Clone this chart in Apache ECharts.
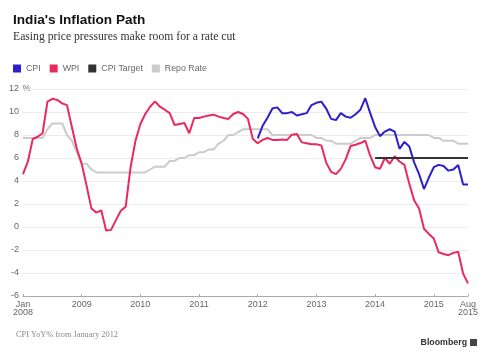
<!DOCTYPE html>
<html><head><meta charset="utf-8">
<script src="https://cdn.jsdelivr.net/npm/echarts@6/dist/echarts.min.js"></script>
<style>html,body{margin:0;padding:0;background:#fff}#c{width:488px;height:358px}</style>
</head><body><div id="c"></div>
<script>
// Monthly categories Jan 2008 .. Aug 2015
const months = [];
for (let y = 2008; y <= 2015; y++) {
  for (let m = 1; m <= 12; m++) {
    if (y === 2015 && m > 8) break;
    months.push(y + '-' + String(m).padStart(2, '0'));
  }
}

// WPI YoY %, Jan 2008 .. Aug 2015
const wpi = [4.6, 5.7, 7.65, 7.85, 8.15, 10.9, 11.15, 11.05, 10.75, 10.6, 8.67, 6.8,
  5.5, 3.6, 1.6, 1.25, 1.45, -0.3, -0.25, 0.6, 1.42, 1.77, 5.2, 7.5,
  8.96, 9.83, 10.46, 10.93, 10.46, 10.2, 9.9, 8.87, 8.96, 9.04, 8.15, 9.48,
  9.48, 9.6, 9.7, 9.77, 9.6, 9.48, 9.4, 9.83, 10.0, 9.83, 9.4, 7.65,
  7.28, 7.57, 7.74, 7.57, 7.57, 7.6, 7.57, 8.03, 8.09, 7.36, 7.28, 7.2,
  7.2, 7.1, 5.6, 4.8, 4.6, 5.05, 5.9, 7.05, 7.15, 7.3, 7.5, 6.2,
  5.2, 5.05, 6.0, 5.5, 6.15, 5.7, 5.4, 3.75, 2.3, 1.6, -0.15, -0.6,
  -1.0, -2.2, -2.35, -2.45, -2.25, -2.15, -4.05, -4.9];

// Repo rate %, Jan 2008 .. Aug 2015
const repo = [7.75, 7.75, 7.75, 7.75, 7.75, 8.5, 9.0, 9.0, 9.0, 8.0, 7.5, 6.5,
  5.5, 5.5, 5.0, 4.75, 4.75, 4.75, 4.75, 4.75, 4.75, 4.75, 4.75, 4.75,
  4.75, 4.75, 5.0, 5.25, 5.25, 5.25, 5.75, 5.75, 6.0, 6.0, 6.25, 6.25,
  6.5, 6.5, 6.75, 6.75, 7.25, 7.5, 8.0, 8.0, 8.25, 8.5, 8.5, 8.5,
  8.5, 8.5, 8.5, 8.0, 8.0, 8.0, 8.0, 8.0, 8.0, 8.0, 8.0, 8.0,
  7.75, 7.75, 7.5, 7.5, 7.25, 7.25, 7.25, 7.25, 7.5, 7.75, 7.75, 7.75,
  8.0, 8.0, 8.0, 8.0, 8.0, 8.0, 8.0, 8.0, 8.0, 8.0, 8.0, 8.0,
  7.75, 7.75, 7.5, 7.5, 7.5, 7.25, 7.25, 7.25];

// CPI YoY %, Jan 2012 .. Aug 2015
const cpiStart = '2012-01';
const cpi = [7.7, 8.8, 9.5, 10.3, 10.4, 9.9, 9.9, 10.0, 9.7, 9.8, 9.9, 10.6,
  10.8, 10.9, 10.3, 9.4, 9.3, 9.9, 9.6, 9.5, 9.8, 10.2, 11.2, 9.9,
  8.7, 7.9, 8.3, 8.5, 8.3, 6.8, 7.4, 7.0, 5.6, 4.6, 3.3, 4.3,
  5.2, 5.4, 5.3, 4.9, 5.0, 5.4, 3.7, 3.7];

// CPI target line
const cpiTargetMonths = ['2014-01', '2015-08'];
const cpiTargetValues = [6, 6];

// Axis ticks
const yMin = -6, yMax = 12, yStep = 2;
const xTickIndex = [0, 12, 24, 36, 48, 60, 72, 84, 91];
const xTickText = ['Jan\n2008', '2009', '2010', '2011', '2012', '2013', '2014', '2015', 'Aug\n2015'];

const C_CPI = '#2d20cc', C_WPI = '#ea2a5e', C_TGT = '#333333', C_REPO = '#cbcbcb';
const SANS = 'Liberation Sans, Arial, sans-serif';
const SERIF = 'Liberation Serif, Times New Roman, serif';

const cpiData = months.slice(months.indexOf(cpiStart)).map((m, k) => [m, cpi[k]]);
const tgtData = cpiTargetMonths.map((m, k) => [m, cpiTargetValues[k]]);

const chart = echarts.init(document.getElementById('c'), null, {renderer: 'canvas'});
const isTick = (idx) => xTickIndex.indexOf(idx) >= 0;
chart.setOption({
  animation: false,
  backgroundColor: '#fff',
  title: [
    {text: "India's Inflation Path", left: 13, top: 13, padding: 0,
     textStyle: {fontFamily: SANS, fontSize: 13.6, fontWeight: 'bold', color: '#111'}},
    {text: 'Easing price pressures make room for a rate cut', left: 13, top: 31, padding: 0,
     textStyle: {fontFamily: SERIF, fontSize: 11.7, fontWeight: 'normal', color: '#333'}},
    {text: 'CPI YoY% from January 2012', left: 16, top: 331, padding: 0,
     textStyle: {fontFamily: SERIF, fontSize: 8.3, fontWeight: 'normal', color: '#888'}},
    {text: 'Bloomberg', right: 21, top: 338, padding: 0,
     textStyle: {fontFamily: SANS, fontSize: 8.8, fontWeight: 'bold', color: '#333'}}
  ],
  graphic: [
    {type: 'rect', right: 11, top: 339, shape: {width: 7, height: 7}, style: {fill: '#444'}},
    {type: 'text', left: 20, top: 84, style: {text: ' %', fontFamily: SANS, fontSize: 9, fill: '#666', backgroundColor: '#fff'}}
  ],
  legend: {
    left: 13, top: 64, padding: 0, icon: 'rect', itemWidth: 8, itemHeight: 8, itemGap: 9,
    data: ['CPI', 'WPI', 'CPI Target', 'Repo Rate'],
    textStyle: {fontFamily: SANS, fontSize: 8.8, color: '#666'}
  },
  grid: {left: 23, right: 20, top: 89, bottom: 62, containLabel: false},
  xAxis: {
    type: 'category', data: months, boundaryGap: false,
    axisLine: {onZero: false, lineStyle: {color: '#aaa', width: 1}},
    axisTick: {show: true, inside: true, interval: isTick, length: 2, lineStyle: {color: '#aaa'}},
    axisLabel: {
      interval: isTick, margin: 5, color: '#666', fontFamily: SANS, fontSize: 9, lineHeight: 8,
      formatter: (v, idx) => xTickText[xTickIndex.indexOf(idx)]
    },
    splitLine: {show: false}
  },
  yAxis: {
    type: 'value', min: yMin, max: yMax, interval: yStep,
    axisLine: {show: false}, axisTick: {show: false},
    axisLabel: {margin: 4, color: '#666', fontFamily: SANS, fontSize: 9},
    splitLine: {lineStyle: {color: '#ececec', width: 1}}
  },
  series: [
    {name: 'Repo Rate', type: 'line', data: repo, symbol: 'none', z: 1,
     lineStyle: {color: C_REPO, width: 2}, itemStyle: {color: C_REPO}},
    {name: 'WPI', type: 'line', data: wpi, symbol: 'none', z: 2,
     lineStyle: {color: C_WPI, width: 2}, itemStyle: {color: C_WPI}},
    {name: 'CPI', type: 'line', data: cpiData, symbol: 'none', z: 3,
     lineStyle: {color: C_CPI, width: 2}, itemStyle: {color: C_CPI}},
    {name: 'CPI Target', type: 'line', data: tgtData, symbol: 'none', z: 4,
     lineStyle: {color: C_TGT, width: 2}, itemStyle: {color: C_TGT}}
  ]
});
</script>
</body></html>
